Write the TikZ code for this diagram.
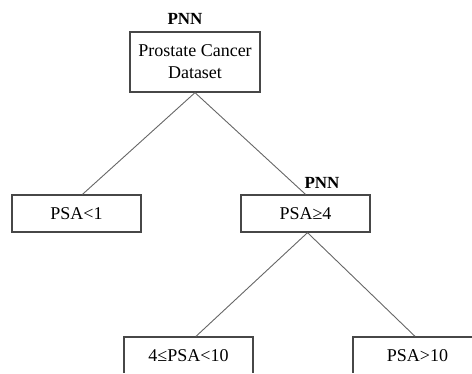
\documentclass[tikz,border=0pt]{standalone}
\usepackage{fontspec}
\setmainfont{Liberation Serif}
\tikzset{
  treebox/.style={draw=black!72, line width=1.3pt, rectangle, inner sep=0pt,
    minimum width=129pt, minimum height=37pt, align=center,
    font=\fontsize{18}{22}\selectfont},
  link/.style={draw=black!60, line width=0.9pt},
  tag/.style={font=\fontsize{17}{20}\selectfont\bfseries, inner sep=0pt}
}
\begin{document}
\begin{tikzpicture}[x=1pt, y=-1pt]
\useasboundingbox (0,0) rectangle (472,374);
\clip (0,0) rectangle (472,373);
\node[treebox, minimum width=130pt, minimum height=60pt] (root) at (195,62) {Prostate Cancer\\Dataset};
\node[treebox] (lt) at (76.5,213.5) {PSA<1};
\node[treebox] (ge) at (305.5,213.5) {PSA≥4};
\node[treebox] (mid) at (188.5,355.5) {4≤PSA<10};
\node[treebox] (hi) at (417.5,355.5) {PSA>10};
\node[tag] (pnn1) at (185,19) {PNN};
\node[tag] (pnn2) at (322,183) {PNN};
\draw[link] (root.south) -- ([xshift=6pt]lt.north);
\draw[link] (root.south) -- (ge.north);
\draw[link] ([xshift=2pt]ge.south) -- ([xshift=7.5pt]mid.north);
\draw[link] ([xshift=2pt]ge.south) -- ([xshift=-2.5pt]hi.north);
\end{tikzpicture}
\end{document}
